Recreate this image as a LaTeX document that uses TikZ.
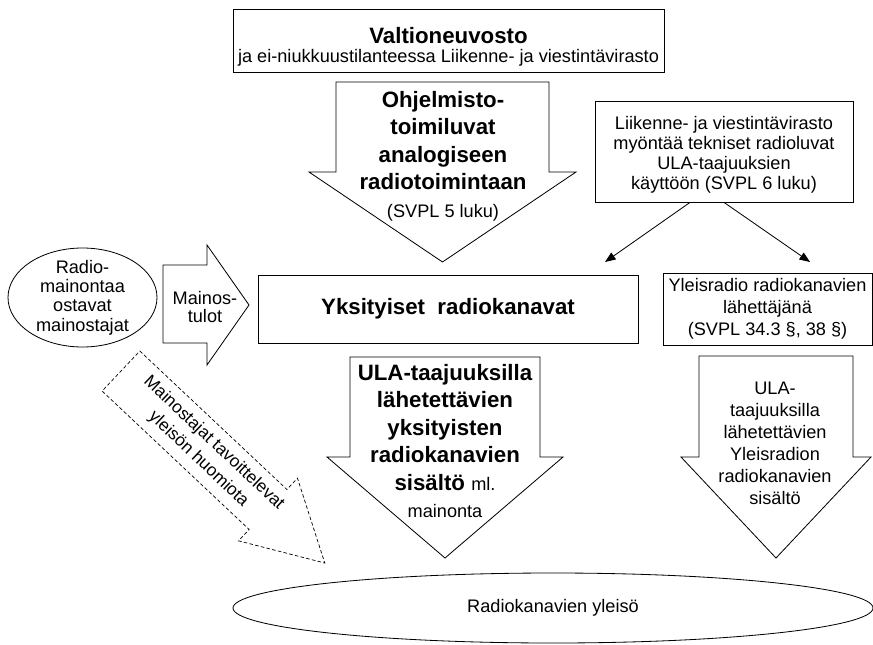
\documentclass[tikz,border=0pt]{standalone}
\usepackage{fontspec}
\setmainfont{Liberation Sans}
\usetikzlibrary{positioning}
\usetikzlibrary{arrows.meta}
\usetikzlibrary{shapes.geometric}
\newcommand{\ohut}{\fontsize{15.5}{18.8}\fontseries{m}\selectfont}
\tikzset{
every node/.style={ % Sets the text of all nodes
font=\fontsize{15.5}{18.8}\selectfont,
align=center,
inner sep=0pt},
box/.style={draw, line width=0.7pt},
oval/.style={draw, ellipse, line width=0.7pt},
bigtext/.style={font=\fontsize{19}{23.5}\selectfont\bfseries},
blockarrow/.style={draw, line width=0.7pt, fill=white, line join=miter}, % Wide outline arrows
dasharrow/.style={draw, line width=0.6pt, dash pattern=on 3pt off 2pt},
link/.style={draw, line width=0.7pt, -{Triangle[length=9pt,width=7pt]}}}

\begin{document}
\begin{tikzpicture}[x=0.03cm, y=-0.03cm]
	\useasboundingbox (0,0) rectangle (873,644);
	% block arrows
	\draw[blockarrow] (336,82) -- (549,82) -- (549,172) -- (576,172) -- (442.5,262) -- (309,172) -- (336,172) -- cycle;
	\draw[blockarrow] (350,357) -- (540,357) -- (540,457) -- (563,457) -- (445,558) -- (327,457) -- (350,457) -- cycle;
	\draw[blockarrow] (699,356) -- (853,356) -- (853,457) -- (871,457) -- (776,558) -- (681,457) -- (699,457) -- cycle;
	\draw[blockarrow] (163,265) -- (207,265) -- (207,245) -- (249,305) -- (207,365) -- (207,343) -- (163,343) -- cycle;
	\begin{scope}[shift={(121,371)}, rotate=-43.3]
		\draw[dasharrow] (0,-27.5) -- (202,-27.5) -- (202,-43) -- (280,0) -- (202,43) -- (202,27.5) -- (0,27.5) -- cycle;
		\node[rotate=-43.3, font=\fontsize{14.8}{19}\selectfont] (tavoite) at (117,0) {Mainostajat tavoittelevat\\yleisön huomiota};
	\end{scope}
	% boxes and ovals
	\node[box, minimum width=12.93cm, minimum height=1.89cm, font=\fontsize{15.5}{16.2}\selectfont] (valtio) at (448.5,40.5) {\rule{0pt}{24pt}{\bfseries\fontsize{19}{16.2}\selectfont Valtioneuvosto}\\ja ei-niukkuustilanteessa Liikenne- ja viestintävirasto};
	\node[box, minimum width=7.74cm, minimum height=3.03cm, font=\fontsize{15.5}{17}\selectfont] (lvluvat) at (724,151.5) {\rule{0pt}{17pt}Liikenne- ja viestintävirasto\\myöntää tekniset radioluvat\\ULA-taajuuksien\\käyttöön (SVPL 6 luku)};
	\node[box, bigtext, minimum width=11.4cm, minimum height=2.04cm] (yksit) at (448,309) {Yksityiset\ \ radiokanavat};
	\node[box, minimum width=6.27cm, minimum height=2.16cm] (yle) at (767.5,309) {Yleisradio radiokanavien\\lähettäjänä\\(SVPL 34.3 §, 38 §)};
	\node[oval, inner sep=-0.3cm, minimum width=4.47cm, minimum height=2.97cm, font=\fontsize{15.5}{16.5}\selectfont] (ostajat) at (82.5,297.5) {Radio-\\mainontaa\\ostavat\\mainostajat};
	\node[oval, minimum width=19.2cm, minimum height=2.1cm] (yleiso) at (553,608) {Radiokanavien yleisö};
	% texts in the arrows
	\node[bigtext] (ohjelma) at (443,156) {Ohjelmisto-\\toimiluvat\\analogiseen\\radiotoimintaan\\{\ohut (SVPL 5 luku)}};
	\node[bigtext] (ulasisalto) at (445,441) {ULA-taajuuksilla\\lähetettävien\\yksityisten\\radiokanavien\\sisältö\ {\ohut ml.}\\{\ohut mainonta}};
	\node (ylesisalto) at (775,443) {ULA-\\taajuuksilla\\lähetettävien\\Yleisradion\\radiokanavien\\sisältö};
	\node[font=\fontsize{15.5}{15}\selectfont] (tulot) at (205,307) {Mainos-\\tulot};
	% connectors
	\coordinate (kohde1) at (605,262);
	\coordinate (kohde2) at (810,262);
	\draw[link] ([xshift=-1.02cm]lvluvat.south) -- (kohde1);
	\draw[link] (lvluvat.south) -- (kohde2);
\end{tikzpicture}
\end{document}
